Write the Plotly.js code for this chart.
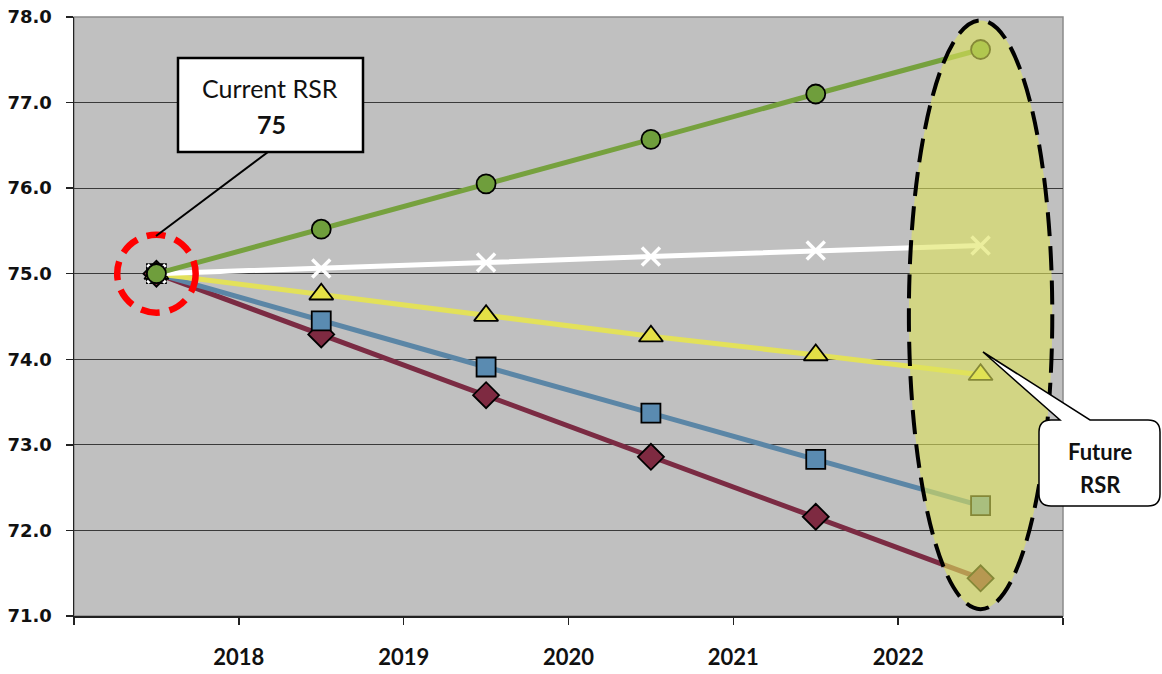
<!DOCTYPE html>
<html>
<head>
<meta charset="utf-8">
<script src="https://cdn.plot.ly/plotly-3.0.1.min.js"></script>
<style>html,body{margin:0;padding:0;background:#fff;}#chart{width:1162px;height:674px;}</style>
</head>
<body>
<div id="chart"></div>
<script>
// ---- data ----
var periods = [2017.5, 2018.5, 2019.5, 2020.5, 2021.5, 2022.5];
var tickYears = [2017, 2018, 2019, 2020, 2021, 2022, 2023];
var tickLabels = ['', '2018', '2019', '2020', '2021', '2022', ''];
var seriesHigh = [75.0, 75.52, 76.05, 76.57, 77.10, 77.62];
var seriesFlat = [75.0, 75.06, 75.13, 75.20, 75.27, 75.33];
var seriesMid = [75.0, 74.76, 74.51, 74.27, 74.05, 73.82];
var seriesLow = [75.0, 74.45, 73.91, 73.37, 72.83, 72.29];
var seriesLowest = [75.0, 74.29, 73.58, 72.86, 72.16, 71.44];
var currentRSR = 75;

// ---- geometry helpers (pixel -> paper) ----
var W = 1162, H = 674;
var mL = 74, mR = 99, mT = 17, mB = 58;
var pw = W - mL - mR, ph = H - mT - mB;
function px(x) { return (x - mL) / pw; }
function py(y) { return (H - mB - y) / ph; }
function P(x, y) { return px(x).toFixed(5) + ',' + py(y).toFixed(5); }

function tr(y, lineColor, fill, symbol, size) {
  return {
    x: periods, y: y, type: 'scatter', mode: 'lines+markers',
    line: {color: lineColor, width: 5},
    marker: {symbol: symbol, size: size, color: fill, line: {color: '#000', width: 1.8}},
    hoverinfo: 'skip', showlegend: false, cliponaxis: false
  };
}
var traces = [
  tr(seriesLowest, '#7b2b43', '#7e2a41', 'diamond', 20),
  tr(seriesLow, '#5b86a6', '#5a8bb1', 'square', 19),
  tr(seriesMid, '#e3e15a', '#e4e046', 'triangle-up', 21),
  {
    x: periods, y: seriesFlat, type: 'scatter', mode: 'lines+markers',
    line: {color: '#ffffff', width: 5},
    marker: {symbol: 'x-thin', size: 18, color: '#ffffff', line: {color: '#ffffff', width: 3.5}},
    hoverinfo: 'skip', showlegend: false, cliponaxis: false
  },
  tr(seriesHigh, '#76a13e', '#6f9e3c', 'circle', 19)
];

// callout path for "Future RSR"
var L = 1039, R = 1160, T = 420, B = 506, r = 12;
var futurePath = 'M' + P(L + r, T) + ' L' + P(1060, T) + ' L' + P(983, 352) + ' L' + P(1090, T) +
  ' L' + P(R - r, T) + ' Q' + P(R, T) + ' ' + P(R, T + r) + ' L' + P(R, B - r) +
  ' Q' + P(R, B) + ' ' + P(R - r, B) + ' L' + P(L + r, B) + ' Q' + P(L, B) + ' ' + P(L, B - r) +
  ' L' + P(L, T + r) + ' Q' + P(L, T) + ' ' + P(L + r, T) + ' Z';

var shapes = [
  // plot frame (top/right gray)
  {type: 'rect', xref: 'paper', yref: 'paper', x0: 0, x1: 1, y0: 0, y1: 1,
   line: {color: '#8a8a8a', width: 1.5}, layer: 'below'},
  // red dashed circle around current value
  {type: 'circle', xref: 'x', yref: 'y', x0: 2017.5 - 0.238, x1: 2017.5 + 0.238, y0: 75 - 0.455, y1: 75 + 0.455,
   line: {color: '#ff0000', width: 6.5, dash: '19px,10px'}, layer: 'above'},
  // future ellipse
  {type: 'circle', xref: 'x', yref: 'y', x0: 2022.5 - 0.435, x1: 2022.5 + 0.435, y0: 71.08, y1: 77.96,
   fillcolor: 'rgba(222,227,92,0.6)', line: {color: '#000', width: 4, dash: '24px,10px'}, layer: 'above'},
  // current RSR leader line
  {type: 'line', xref: 'paper', yref: 'paper', x0: px(268), y0: py(152), x1: px(156), y1: py(236),
   line: {color: '#000', width: 2}, layer: 'above'},
  // current RSR box
  {type: 'rect', xref: 'paper', yref: 'paper', x0: px(178), x1: px(363), y0: py(152), y1: py(58),
   fillcolor: '#ffffff', line: {color: '#000', width: 2.5}, layer: 'above'},
  // future RSR callout
  {type: 'path', xref: 'paper', yref: 'paper', path: futurePath,
   fillcolor: '#ffffff', line: {color: '#000', width: 1.5}, layer: 'above'}
];

var annotations = [
  {xref: 'paper', yref: 'paper', x: px(270), y: py(88), text: 'Current RSR', showarrow: false,
   xanchor: 'center', yanchor: 'middle', font: {family: 'Lato, sans-serif', size: 25, color: '#111'}},
  {xref: 'paper', yref: 'paper', x: px(271), y: py(124), text: '<b>' + currentRSR + '</b>', showarrow: false,
   xanchor: 'center', yanchor: 'middle', font: {family: 'Lato, sans-serif', size: 25, color: '#111'}},
  {xref: 'paper', yref: 'paper', x: px(1100), y: py(451), text: '<b>Future</b>', showarrow: false,
   xanchor: 'center', yanchor: 'middle', font: {family: 'Lato, sans-serif', size: 22, color: '#111'}},
  {xref: 'paper', yref: 'paper', x: px(1100), y: py(484), text: '<b>RSR</b>', showarrow: false,
   xanchor: 'center', yanchor: 'middle', font: {family: 'Lato, sans-serif', size: 22, color: '#111'}}
];

var layout = {
  width: W, height: H,
  margin: {l: mL, r: mR, t: mT, b: mB, pad: 0},
  paper_bgcolor: '#ffffff', plot_bgcolor: '#c0c0c0',
  xaxis: {
    range: [2017, 2023], tickmode: 'array', tickvals: tickYears, ticktext: tickLabels,
    ticks: 'outside', ticklen: 7, tickwidth: 1.5, tickcolor: '#222',
    showline: true, linecolor: '#222', linewidth: 1.5, showgrid: false, zeroline: false,
    ticklabelstandoff: 14,
    tickfont: {family: 'Lato, sans-serif', size: 22, color: '#111', weight: 'bold'}
  },
  yaxis: {
    range: [71, 78], dtick: 1, tick0: 71, tickformat: '.1f',
    ticks: 'outside', ticklen: 7, tickwidth: 1.5, tickcolor: '#222',
    showline: true, linecolor: '#222', linewidth: 1.5,
    showgrid: true, gridcolor: '#3a3a3a', gridwidth: 1.2, zeroline: false,
    ticklabelstandoff: 10,
    tickfont: {family: '"DejaVu Sans", sans-serif', size: 18, color: '#111', weight: 'bold'}
  },
  shapes: shapes,
  annotations: annotations,
  showlegend: false
};

Plotly.newPlot('chart', traces, layout, {staticPlot: true, displayModeBar: false});
</script>
</body>
</html>
